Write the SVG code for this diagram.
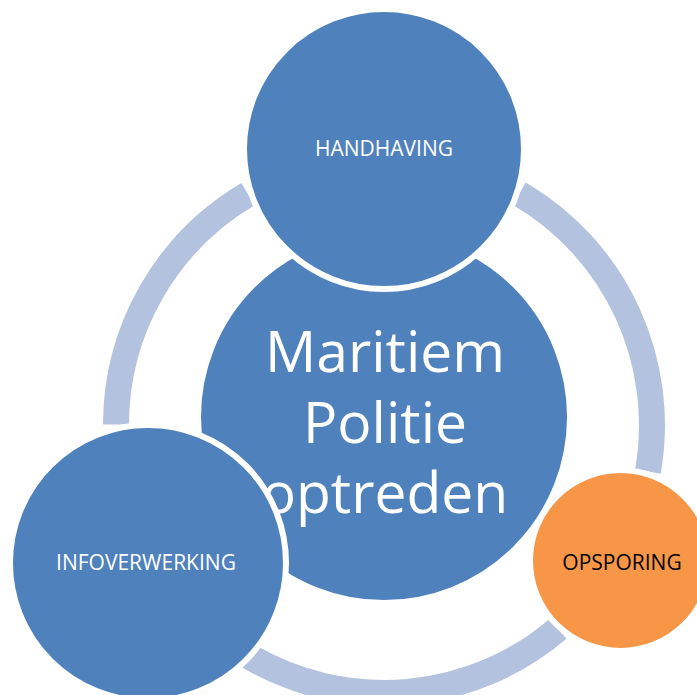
<svg xmlns="http://www.w3.org/2000/svg" width="697" height="695" viewBox="0 0 697 695">
<style>
.ring{fill:none;stroke:#B3C2DE;stroke-width:26;stroke-linecap:butt}
.blue{fill:#4F81BD;stroke:#FFFFFF;stroke-width:6}
.orange{fill:#F79646;stroke:#FFFFFF;stroke-width:6}
.lbl{font-family:"Open Sans","Noto Sans","Liberation Sans",sans-serif;font-size:21px;text-anchor:middle}
.big{font-family:"Open Sans","Noto Sans","Liberation Sans",sans-serif;font-size:57px;text-anchor:middle;fill:#FFFFFF}
</style>
<rect width="697" height="695" fill="#FFFFFF"/>
<g id="connectors">
<path class="ring" d="M519.2,193.6 A268,268 0 0 1 647.9,471.5"/>
<path class="ring" d="M558,628.8 A268,268 0 0 1 249.2,656.6"/>
<path class="ring" d="M116,424.5 A268,268 0 0 1 248,194.1"/>
</g>
<g id="center">
<circle class="blue" cx="384" cy="417" r="186"/>
<text class="big" x="385" y="372">Maritiem</text>
<text class="big" x="385" y="443">Politie</text>
<text class="big" x="385" y="513">optreden</text>
</g>
<g id="handhaving">
<circle class="blue" cx="384" cy="149" r="140"/>
<text class="lbl" x="384" y="156" fill="#FFFFFF">HANDHAVING</text>
</g>
<g id="infoverwerking">
<circle class="blue" cx="148" cy="563" r="138"/>
<text class="lbl" x="146" y="570" fill="#FFFFFF">INFOVERWERKING</text>
</g>
<g id="opsporing">
<circle class="orange" cx="620.5" cy="560.5" r="90.5"/>
<text class="lbl" x="622" y="570" fill="#000000">OPSPORING</text>
</g>
</svg>
